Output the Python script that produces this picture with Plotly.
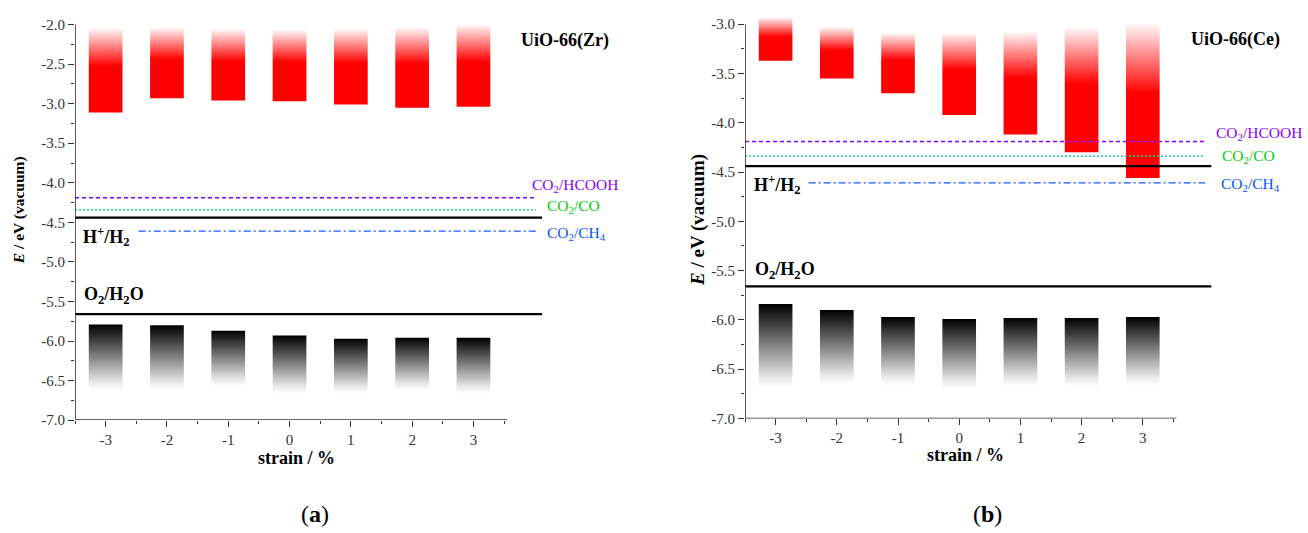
import plotly.graph_objects as go

# ---------------- data ----------------
strain = [-3, -2, -1, 0, 1, 2, 3]

zr_cb_top = [-2.05, -2.04, -2.06, -2.07, -2.06, -2.04, -2.00]
zr_cb_bottom = [-3.11, -2.93, -2.96, -2.97, -3.01, -3.05, -3.04]
zr_vb_top = [-5.79, -5.80, -5.87, -5.93, -5.97, -5.96, -5.96]
zr_vb_bottom = [-6.62, -6.62, -6.57, -6.66, -6.66, -6.62, -6.66]

ce_cb_top = [-2.93, -3.03, -3.09, -3.09, -3.08, -3.04, -3.00]
ce_cb_bottom = [-3.37, -3.55, -3.70, -3.92, -4.12, -4.30, -4.56]
ce_vb_top = [-5.84, -5.90, -5.97, -5.99, -5.98, -5.98, -5.97]
ce_vb_bottom = [-6.69, -6.65, -6.66, -6.70, -6.67, -6.68, -6.66]

pot_names = ["CO<sub>2</sub>/HCOOH", "CO<sub>2</sub>/CO", "H<sup>+</sup>/H<sub>2</sub>",
             "CO<sub>2</sub>/CH<sub>4</sub>", "O<sub>2</sub>/H<sub>2</sub>O"]
pot_values = [-4.19, -4.34, -4.44, -4.61, -5.66]

y_ticks_zr = [-7.0, -6.5, -6.0, -5.5, -5.0, -4.5, -4.0, -3.5, -3.0, -2.5, -2.0]
y_ticks_ce = [-7.0, -6.5, -6.0, -5.5, -5.0, -4.5, -4.0, -3.5, -3.0]

# ---------------- layout helpers ----------------
W, H = 1308, 533
FONT = "Liberation Serif, 'Times New Roman', 'DejaVu Serif', serif"
BAR_W = 0.55

def px(x):
    return x / W

def py(y):
    return 1 - y / H

fig = go.Figure()

CB_SCALE = [[0, "rgb(255,0,0)"], [0.55, "rgb(255,0,0)"], [1, "rgb(255,248,248)"]]
VB_SCALE = [[0, "rgb(255,255,255)"], [0.12, "rgb(232,232,232)"], [1, "rgb(0,0,0)"]]

def add_bars(xa, ya, tops, bottoms, scale):
    for s, t, b in zip(strain, tops, bottoms):
        x0, x1 = s - BAR_W / 2, s + BAR_W / 2
        fig.add_trace(go.Scatter(
            x=[x0, x1, x1, x0, x0], y=[b, b, t, t, b],
            mode="lines", line=dict(width=0), fill="toself",
            fillgradient=dict(type="vertical", colorscale=scale),
            xaxis=xa, yaxis=ya, showlegend=False, hoverinfo="skip"))

add_bars("x", "y", zr_cb_top, zr_cb_bottom, CB_SCALE)
add_bars("x", "y", zr_vb_top, zr_vb_bottom, VB_SCALE)
add_bars("x2", "y2", ce_cb_top, ce_cb_bottom, CB_SCALE)
add_bars("x2", "y2", ce_vb_top, ce_vb_bottom, VB_SCALE)

line_styles = [
    dict(color="#8f00ff", width=1.4, dash="4px,3px"),
    dict(color="#1fd39a", width=1.6, dash="2px,2px"),
    dict(color="black", width=2.3, dash="solid"),
    dict(color="#1a55ff", width=1.3, dash="7px,3px,2px,3px"),
    dict(color="black", width=2.3, dash="solid"),
]
line_x0 = [-3.5, -3.5, -3.5, -2.46, -3.5]
line_x1 = [4.02, 4.02, 4.12, 4.02, 4.12]

for xa, ya in [("x", "y"), ("x2", "y2")]:
    for v, st, a, b in zip(pot_values, line_styles, line_x0, line_x1):
        fig.add_trace(go.Scatter(x=[a, b], y=[v, v], mode="lines", line=st,
                                 xaxis=xa, yaxis=ya, showlegend=False, hoverinfo="skip"))

# axis lines (drawn so they stop where the original's axes stop)
for xr, yr, ybot, ytop in [("x", "y", -7.0, -2.0), ("x2", "y2", -7.0, -3.0)]:
    fig.add_shape(type="line", xref=xr, yref=yr, x0=-3.5, x1=-3.5, y0=ybot, y1=ytop,
                  line=dict(color="#333", width=1.6))
    fig.add_shape(type="line", xref=xr, yref=yr, x0=-3.5, x1=3.55, y0=ybot, y1=ybot,
                  line=dict(color="#333", width=1.6))

axis_font = dict(family=FONT, size=15, color="#333")
xcommon = dict(range=[-3.5, 5.3], tickmode="array", tickvals=strain,
               ticktext=[str(s) for s in strain], ticks="outside", ticklen=6, tickwidth=1.3,
               tickcolor="#333", showline=False, showgrid=False, zeroline=False,
               tickfont=axis_font,
               minor=dict(tickvals=[-3.5, -2.5, -1.5, -0.5, 0.5, 1.5, 2.5, 3.5],
                          ticks="outside", ticklen=3, tickcolor="#333", tickwidth=1.1))

def ycommon(ticks, rng):
    minors = [t + 0.25 for t in ticks[:-1]]
    return dict(range=rng, tickmode="array", tickvals=ticks,
                ticktext=[f"{t:.1f}" for t in ticks], ticks="outside", ticklen=6,
                tickwidth=1.3, tickcolor="#333", showline=False, showgrid=False,
                zeroline=False, tickfont=axis_font,
                minor=dict(tickvals=minors, ticks="outside", ticklen=3,
                           tickcolor="#333", tickwidth=1.1))

fig.update_layout(
    width=W, height=H, margin=dict(l=0, r=0, t=0, b=0),
    paper_bgcolor="white", plot_bgcolor="rgba(0,0,0,0)",
    xaxis=dict(domain=[px(75), px(75 + 8.8 * 61.3)], anchor="y", **xcommon),
    yaxis=dict(domain=[py(425.7), py(17.0)], anchor="x",
               **ycommon(y_ticks_zr, [-7.0, -1.95])),
    xaxis2=dict(domain=[px(745), px(745 + 8.8 * 61.2)], anchor="y2", **xcommon),
    yaxis2=dict(domain=[py(424.0), py(10.6)], anchor="x2",
                **ycommon(y_ticks_ce, [-7.0, -2.9])),
    font=dict(family=FONT),
)

ann = []
label_colors = ["#8a00ff", "#00cc00", "black", "#0055ff", "black"]
label_sizes = [15.5, 15.5, 18, 15.5, 18]

# panel-specific label anchors (data coords, left edge)
zr_lab = [(3.93, -4.04), (4.16, -4.30), (-3.41, -4.68), (4.16, -4.645), (-3.38, -5.42)]
ce_lab = [(4.17, -4.11), (4.26, -4.34), (-3.38, -4.63), (4.25, -4.63), (-3.37, -5.50)]

for xr, yr, labs in [("x", "y", zr_lab), ("x2", "y2", ce_lab)]:
    for name, (lx, ly), c, s in zip(pot_names, labs, label_colors, label_sizes):
        txt = f"<b>{name}</b>" if c == "black" else name
        ann.append(dict(x=lx, y=ly, xref=xr, yref=yr, text=txt, showarrow=False,
                        xanchor="left", yanchor="middle",
                        font=dict(family=FONT, size=s, color=c)))

ann.append(dict(x=4.5, y=-2.2, xref="x", yref="y", text="<b>UiO-66(Zr)</b>", showarrow=False,
                xanchor="center", yanchor="middle",
                font=dict(family=FONT, size=18, color="black")))
ann.append(dict(x=4.51, y=-3.16, xref="x2", yref="y2", text="<b>UiO-66(Ce)</b>", showarrow=False,
                xanchor="center", yanchor="middle",
                font=dict(family=FONT, size=18, color="black")))

for cx, cy in [(296, 464), (965, 461)]:
    ann.append(dict(x=px(cx), y=py(cy), xref="paper", yref="paper", text="<b>strain / %</b>",
                    showarrow=False, xanchor="center", yanchor="middle",
                    font=dict(family=FONT, size=18, color="black")))
for cx, cy, fs in [(19, 211, 15.5), (698, 221, 19)]:
    ann.append(dict(x=px(cx), y=py(cy), xref="paper", yref="paper",
                    text="<b><i>E</i> / eV (vacuum)</b>", textangle=-90,
                    showarrow=False, xanchor="center", yanchor="middle",
                    font=dict(family=FONT, size=fs, color="black")))
for t, cx in [("(<b>a</b>)", 315), ("(<b>b</b>)", 987)]:
    ann.append(dict(x=px(cx), y=py(522), xref="paper", yref="paper", text=t,
                    showarrow=False, xanchor="center", yanchor="middle",
                    font=dict(family=FONT, size=24, color="black")))

fig.update_layout(annotations=ann)
fig.write_html("out.html")
